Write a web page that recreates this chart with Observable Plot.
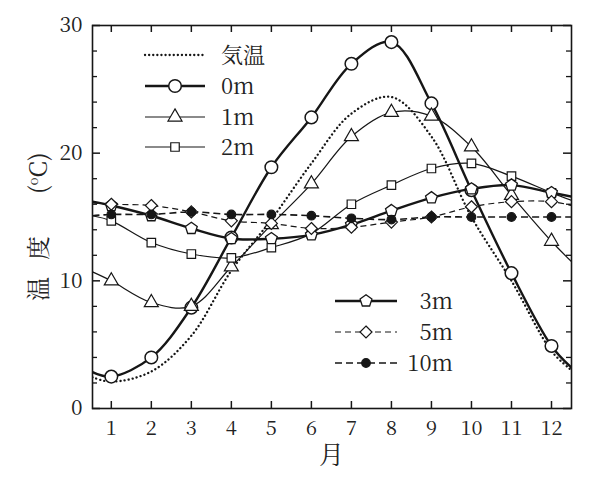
<!DOCTYPE html>
<html><head><meta charset="utf-8">
<script src="https://cdn.jsdelivr.net/npm/d3@7"></script>
<script src="https://cdn.jsdelivr.net/npm/@observablehq/plot@0.6"></script>
<style>body{margin:0;background:#fff} svg{display:block}</style>
</head><body><div id="chart"></div>
<script>
// ---- data ----
const months = [1,2,3,4,5,6,7,8,9,10,11,12];
const yMajorTicks = [0,10,20,30];
const yMinorTicks = [2,4,6,8,12,14,16,18,22,24,26,28];
const seriesNames = ["気温","0m","1m","2m","3m","5m","10m"];
const airTemp = [2.1, 2.9, 5.7, 10.8, 14.8, 19.2, 23.1, 24.4, 21.3, 15.0, 10.0, 4.5];
const depth0m  = [2.5, 4.0, 7.9, 13.4, 18.9, 22.8, 27.0, 28.7, 23.9, 17.1, 10.6, 4.9];
const depth1m  = [10.0, 8.3, 8.0, 11.1, 14.4, 17.6, 21.3, 23.2, 22.9, 20.5, 16.7, 13.1];
const depth2m  = [14.7, 13.0, 12.1, 11.8, 12.6, 13.7, 16.0, 17.5, 18.8, 19.2, 18.2, 16.9];
const depth3m  = [15.9, 15.1, 14.1, 13.3, 13.3, 13.6, 14.4, 15.5, 16.5, 17.2, 17.5, 16.9];
const depth5m  = [16.0, 15.9, 15.4, 14.7, 14.5, 14.1, 14.2, 14.6, 15.0, 15.8, 16.2, 16.2];
const depth10m = [15.2, 15.2, 15.4, 15.2, 15.2, 15.1, 14.9, 14.8, 15.0, 15.0, 15.0, 15.0];
// curve values where each line meets the left / right frame
const leftEdge  = [2.45, 2.85, 10.7, 15.1, 16.2, 16.1, 15.1];
const rightEdge = [3.0, 3.2, 11.5, 16.3, 16.6, 15.9, 15.0];
const xDomain = [0.53, 12.5];
const yDomain = [0, 30];

// ---- layout & styles ----
const W = 600, H = 479, mL = 92, mR = 29, mT = 25, mB = 71;
const PW = W - mL - mR, PH = H - mT - mB;
const ink = "#161616";
const font = "Noto Serif CJK JP";

const pentagon = {
  draw(ctx, size) {
    const R = Math.sqrt(size / 2.378);
    for (let i = 0; i < 5; i++) {
      const a = -Math.PI / 2 + i * 2 * Math.PI / 5;
      const px = R * Math.cos(a), py = R * Math.sin(a);
      if (i === 0) ctx.moveTo(px, py); else ctx.lineTo(px, py);
    }
    ctx.closePath();
  }
};

const allValues = [airTemp, depth0m, depth1m, depth2m, depth3m, depth5m, depth10m];
const styles = [
  {sw: 2.3, dash: "0.1,4", cap: "round", symbol: null},
  {sw: 2.4, dash: null, symbol: "circle", r: 6.3, msw: 1.5, fill: "white"},
  {sw: 1.2, dash: null, symbol: "triangle", r: 5.2, msw: 1.2, fill: "white"},
  {sw: 1.2, dash: null, symbol: "square", r: 4.8, msw: 1.2, fill: "white"},
  {sw: 2.4, dash: null, symbol: pentagon, r: 5.4, msw: 1.3, fill: "white"},
  {sw: 1.2, dash: "6,4", symbol: "diamond2", r: 5.4, msw: 1.2, fill: "white"},
  {sw: 1.6, dash: "7,4", symbol: "circle", r: 4.3, msw: 1.2, fill: ink}
];

function linePoints(i) {
  const pts = [{x: xDomain[0], y: leftEdge[i]}];
  months.forEach((m, k) => pts.push({x: m, y: allValues[i][k]}));
  pts.push({x: xDomain[1], y: rightEdge[i]});
  return pts;
}
function dotPoints(i) { return months.map((m, k) => ({x: m, y: allValues[i][k]})); }

const marks = [];
allValues.forEach((v, i) => {
  const s = styles[i];
  marks.push(Plot.line(linePoints(i), {x: "x", y: "y", curve: "catmull-rom",
    stroke: ink, strokeWidth: s.sw, strokeDasharray: s.dash || undefined,
    strokeLinecap: s.cap || "butt", clip: true}));
});
allValues.forEach((v, i) => {
  const s = styles[i];
  if (!s.symbol) return;
  marks.push(Plot.dot(dotPoints(i), {x: "x", y: "y", symbol: s.symbol, r: s.r,
    fill: s.fill, stroke: ink, strokeWidth: s.msw}));
});
marks.push(
  Plot.tickX(months, {x: d => d, insetTop: PH - 7, stroke: ink, strokeWidth: 1.5}),
  Plot.tickX(months, {x: d => d, insetBottom: PH - 7, stroke: ink, strokeWidth: 1.5}),
  Plot.tickY(yMajorTicks, {y: d => d, insetRight: PW - 8, stroke: ink, strokeWidth: 1.5}),
  Plot.tickY(yMajorTicks, {y: d => d, insetLeft: PW - 8, stroke: ink, strokeWidth: 1.5}),
  Plot.tickY(yMinorTicks, {y: d => d, insetRight: PW - 5, stroke: ink, strokeWidth: 1.3}),
  Plot.tickY(yMinorTicks, {y: d => d, insetLeft: PW - 5, stroke: ink, strokeWidth: 1.3}),
  Plot.frame({stroke: ink, strokeWidth: 1.6}),
  Plot.axisX(months, {anchor: "bottom", tickSize: 0, tickPadding: 12, fontSize: 20,
    fontFamily: font, fill: "#222", tickFormat: d => String(d), label: null}),
  Plot.axisY(yMajorTicks, {anchor: "left", tickSize: 0, tickPadding: 10, fontSize: 21,
    fontFamily: font, fill: "#222", tickFormat: d => String(d), label: null})
);

const chart = Plot.plot({
  width: W, height: H,
  marginLeft: mL, marginRight: mR, marginTop: mT, marginBottom: mB,
  x: {domain: xDomain},
  y: {domain: yDomain},
  style: {background: "#fff", color: ink},
  marks
});

const svg = d3.select(chart);
svg.attr("font-family", font);
svg.append("text").attr("x", mL + PW / 2).attr("y", 464).attr("text-anchor", "middle")
  .attr("font-family", font).attr("font-size", 25).attr("fill", "#222").text("月");
const yl = svg.append("text").attr("transform", "translate(47,301) rotate(-90)")
  .attr("text-anchor", "start").attr("font-size", 24).attr("fill", "#222").attr("font-family", font);
yl.append("tspan").text("温");
yl.append("tspan").attr("dx", 17).text("度");
yl.append("tspan").attr("dx", 42).text("(");
yl.append("tspan").attr("font-size", 13).attr("dy", -9).text("o");
yl.append("tspan").attr("dy", 9).text("C)");

function legendEntry(i, x1, x2, xm, y, tx, anchor) {
  const s = styles[i];
  const g = svg.append("g");
  g.append("line").attr("x1", x1).attr("x2", x2).attr("y1", y).attr("y2", y)
    .attr("stroke", ink).attr("stroke-width", s.sw)
    .attr("stroke-dasharray", s.dash || null).attr("stroke-linecap", s.cap || "butt");
  if (s.symbol) {
    const type = s.symbol === pentagon ? pentagon :
      ({circle: d3.symbolCircle, triangle: d3.symbolTriangle, square: d3.symbolSquare,
        diamond2: d3.symbolDiamond2})[s.symbol];
    g.append("path").attr("d", d3.symbol(type, Math.PI * s.r * s.r)())
      .attr("transform", `translate(${xm},${y})`)
      .attr("fill", s.fill).attr("stroke", ink).attr("stroke-width", s.msw);
  }
  g.append("text").attr("x", tx).attr("y", y).attr("dy", "0.35em")
    .attr("text-anchor", anchor).attr("font-family", font).attr("font-size", 22)
    .attr("fill", "#222").text(seriesNames[i]);
}
[55, 86, 117, 147].forEach((y, k) => legendEntry(k, 145, 205, 175, y, 221, "start"));
[301, 332, 363].forEach((y, k) => legendEntry(k + 4, 335, 397, 366, y, 453, "end"));

document.getElementById("chart").appendChild(chart);
</script>
</body></html>
